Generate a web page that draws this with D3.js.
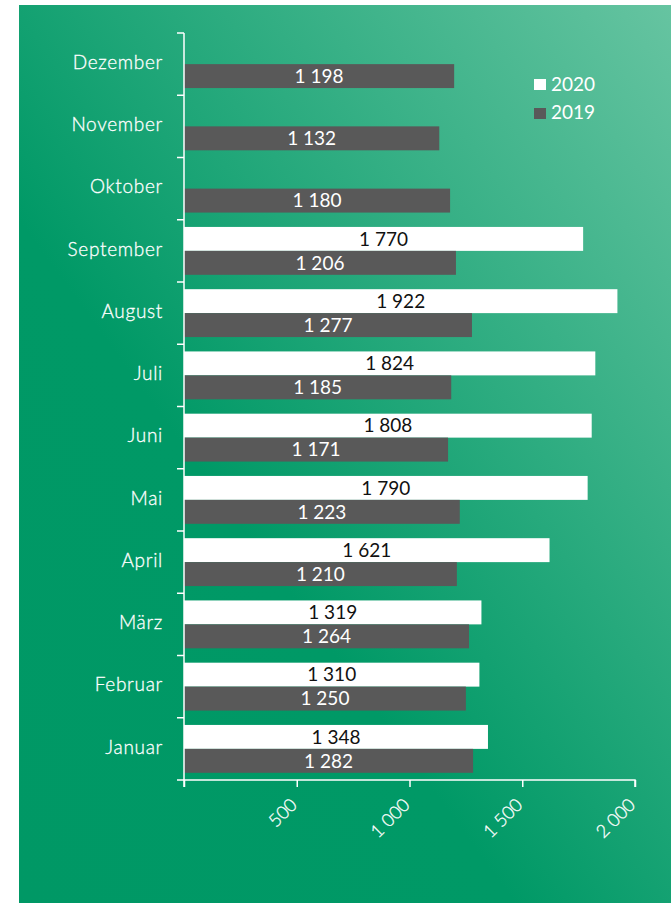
<!DOCTYPE html>
<html>
<head>
<meta charset="utf-8">
<script src="https://cdn.jsdelivr.net/npm/d3@7"></script>
<style>
  body { margin: 0; background: #fff; }
  svg { display: block; }
</style>
</head>
<body>
<div id="chart"></div>
<script>
// data
const months = ["Januar", "Februar", "März", "April", "Mai", "Juni", "Juli",
  "August", "September", "Oktober", "November", "Dezember"];
const keys = ["2020", "2019"];
const values2020 = [1348, 1310, 1319, 1621, 1790, 1808, 1824, 1922, 1770, null, null, null];
const values2019 = [1282, 1250, 1264, 1210, 1223, 1171, 1185, 1277, 1206, 1180, 1132, 1198];
const xTicks = [500, 1000, 1500, 2000];

let width = 671, height = 903;
let margin = { top: 33, right: 36, bottom: 123, left: 184 };
let fontFamily = "Lato, 'Open Sans', sans-serif";

let color = d3.scaleOrdinal(keys, ["#ffffff", "#595959"]);
let textColor = d3.scaleOrdinal(keys, ["#111111", "#ffffff"]);
let fmt = v => d3.format(",")(v).replace(/,/g, " ");

const rows = months.map((m, i) => ({ month: m, "2020": values2020[i], "2019": values2019[i] }));

const svg = d3.select("#chart").append("svg")
  .attr("width", width)
  .attr("height", height);

// background gradient
const grad = svg.append("defs").append("linearGradient")
  .attr("id", "bg")
  .attr("x1", 0).attr("y1", 1).attr("x2", 1).attr("y2", 0);
grad.append("stop").attr("offset", "0%").attr("stop-color", "#009865");
grad.append("stop").attr("offset", "38%").attr("stop-color", "#009966");
grad.append("stop").attr("offset", "100%").attr("stop-color", "#66c4a1");

svg.append("rect")
  .attr("x", 19).attr("y", 5)
  .attr("width", width - 19).attr("height", height - 5)
  .attr("fill", "url(#bg)");

const innerH = height - margin.top - margin.bottom;

let x = d3.scaleLinear().domain([0, 2000]).range([0, 451]);
let y0 = d3.scaleBand().domain(months.slice().reverse()).range([0, innerH]);
let y1 = d3.scaleBand().domain(keys).range([0, y0.bandwidth()]).paddingInner(0).paddingOuter(0.3);

const g = svg.append("g")
  .attr("transform", "translate(" + margin.left + "," + margin.top + ")");

// bars
const groups = g.selectAll(".month")
  .data(rows)
  .join("g")
  .attr("class", "month")
  .attr("transform", d => "translate(0," + y0(d.month) + ")");

const cells = groups.selectAll(".cell")
  .data(d => keys.filter(k => d[k] != null).map(k => ({ key: k, value: d[k] })))
  .join("g")
  .attr("class", "cell");

cells.append("rect")
  .attr("x", 0)
  .attr("y", d => y1(d.key))
  .attr("width", d => x(d.value))
  .attr("height", y1.bandwidth())
  .attr("fill", d => color(d.key));

cells.append("text")
  .attr("x", d => x(d.value) / 2)
  .attr("y", d => y1(d.key) + y1.bandwidth() / 2)
  .attr("dy", "0.36em")
  .attr("text-anchor", "middle")
  .attr("fill", d => textColor(d.key))
  .style("font-family", fontFamily)
  .style("font-size", "19px")
  .text(d => fmt(d.value));

// y axis: ticks on category boundaries
const yAxisG = g.append("g").attr("class", "y-axis");
yAxisG.append("line")
  .attr("x1", 0).attr("x2", 0)
  .attr("y1", 0).attr("y2", innerH)
  .attr("stroke", "#fff").attr("stroke-width", 1.5);
yAxisG.selectAll(".tick")
  .data(months.concat(["end"]))
  .join("line")
  .attr("class", "tick")
  .attr("x1", -7).attr("x2", 0)
  .attr("y1", d => d === "end" ? innerH : y0(d))
  .attr("y2", d => d === "end" ? innerH : y0(d))
  .attr("stroke", "#fff").attr("stroke-width", 1.5);
yAxisG.selectAll(".label")
  .data(months)
  .join("text")
  .attr("class", "label")
  .attr("x", -21)
  .attr("y", d => y0(d) + y0.bandwidth() / 2 - 2)
  .attr("dy", "0.36em")
  .attr("text-anchor", "end")
  .attr("fill", "#fff")
  .style("font-family", fontFamily)
  .style("font-weight", 300)
  .style("font-size", "19px")
  .style("letter-spacing", "0.7px")
  .style("stroke", "#fff")
  .style("stroke-width", 0.3)
  .text(d => d);

// x axis
const xAxis = d3.axisBottom(x)
  .tickValues([0].concat(xTicks))
  .tickSize(7)
  .tickFormat(d => d === 0 ? "" : fmt(d));

const xAxisG = g.append("g")
  .attr("transform", "translate(0," + innerH + ")")
  .call(xAxis);
xAxisG.select(".domain").attr("stroke", "#fff").attr("stroke-width", 1.5)
  .attr("d", "M0,7V0H" + x(2000) + "V7");
xAxisG.selectAll(".tick line").attr("stroke", "#fff").attr("stroke-width", 1.5);
xAxisG.selectAll(".tick text")
  .attr("fill", "#fff")
  .style("font-family", fontFamily)
  .style("font-weight", 300)
  .style("font-size", "18px")
  .style("stroke", "#fff")
  .style("stroke-width", 0.3)
  .attr("text-anchor", "end")
  .attr("transform", "translate(1,26) rotate(-45)")
  .attr("dy", 0)
  .attr("y", 0)
  .attr("x", 0);

// legend
const legend = svg.append("g")
  .attr("transform", "translate(534,78)");
const li = legend.selectAll("g")
  .data(keys)
  .join("g")
  .attr("transform", (_, i) => "translate(0," + i * 28 + ")");
li.append("rect")
  .attr("y", (_, i) => i === 0 ? 1 : 2)
  .attr("width", 12).attr("height", 11)
  .attr("fill", d => color(d));
li.append("text")
  .attr("x", 17)
  .attr("y", 6)
  .attr("dy", "0.36em")
  .attr("fill", "#fff")
  .style("font-family", fontFamily)
  .style("font-size", "19px")
  .text(d => d);
</script>
</body>
</html>
